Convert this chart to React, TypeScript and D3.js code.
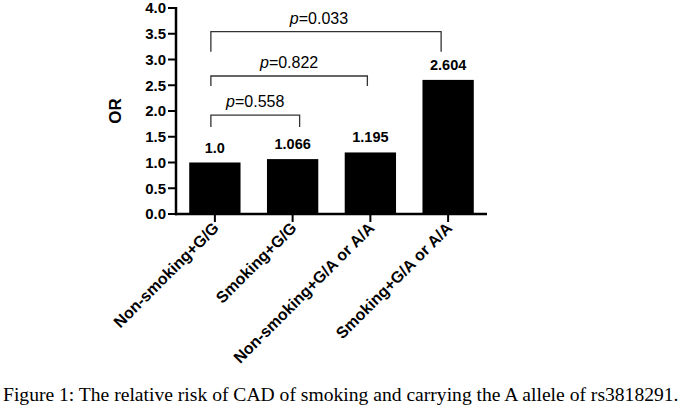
import * as d3 from 'd3';

const categories = ['Non-smoking+G/G', 'Smoking+G/G', 'Non-smoking+G/A or A/A', 'Smoking+G/A or A/A'];
const orValues = [1.0, 1.066, 1.195, 2.604];
const valueLabels = ['1.0', '1.066', '1.195', '2.604'];
const yTicks = [0, 0.5, 1, 1.5, 2, 2.5, 3, 3.5, 4];

// comparisons against the first group: [target index, p text, bracket level in OR units]
const comparisons: { to: number; p: string; level: number }[] = [
  { to: 1, p: '0.558', level: 1.92 },
  { to: 2, p: '0.822', level: 2.68 },
  { to: 3, p: '0.033', level: 3.54 },
];

const W = 685;
const H = 409;
const font = '"Liberation Sans", Arial, Helvetica, sans-serif';

export default function App() {
  const x = d3.scaleBand<string>().domain(categories).range([176, 487]).paddingInner(0.34).paddingOuter(0.17);
  const y = d3.scaleLinear().domain([0, 4]).range([214, 8]);
  const cx = (i: number) => (x(categories[i]) ?? 0) + x.bandwidth() / 2;

  return (
    <svg width={W} height={H} style={{ position: 'absolute', left: 0, top: 0, background: '#fff' }}>
      <rect width={W} height={H} fill="#fff" />

      {/* bars */}
      {categories.map((c, i) => (
        <rect key={c} x={x(c)} y={y(orValues[i])} width={x.bandwidth()} height={y(0) - y(orValues[i])} fill="#000" />
      ))}

      {/* value labels */}
      {categories.map((c, i) => (
        <text key={c} x={cx(i)} y={y(orValues[i]) - 10} textAnchor="middle" fontFamily={font}
          fontWeight="bold" fontSize={14.5} fill="#000">{valueLabels[i]}</text>
      ))}

      {/* y axis */}
      <line x1={176} x2={176} y1={y(4) - 1} y2={y(0) + 1.25} stroke="#000" strokeWidth={2.5} />
      {yTicks.map(t => (
        <g key={t}>
          <line x1={168} x2={176} y1={y(t)} y2={y(t)} stroke="#000" strokeWidth={2} />
          <text x={166} y={y(t)} dy="0.36em" textAnchor="end" fontFamily={font} fontWeight="bold"
            fontSize={15} fill="#000">{t.toFixed(1)}</text>
        </g>
      ))}
      <text transform={`translate(121,${y(2)}) rotate(-90)`} textAnchor="middle" fontFamily={font}
        fontWeight="bold" fontSize={17} fill="#000">OR</text>

      {/* x axis */}
      <line x1={175} x2={487} y1={y(0)} y2={y(0)} stroke="#000" strokeWidth={2.5} />
      {categories.map((c, i) => (
        <g key={c}>
          <line x1={cx(i)} x2={cx(i)} y1={y(0)} y2={y(0) + 8} stroke="#000" strokeWidth={2} />
          <text transform={`translate(${cx(i) + 5},${y(0) + 15}) rotate(-45)`} textAnchor="end"
            fontFamily={font} fontWeight="bold" fontSize={16} fill="#000">{c}</text>
        </g>
      ))}

      {/* significance brackets */}
      {comparisons.map(cmp => {
        const x1 = cx(0) - 4;
        const x2 = cx(cmp.to) + (cmp.to === 1 ? 7 : cmp.to === 2 ? -3 : -7);
        const yl = y(cmp.level);
        const drop = cmp.to === 3 ? 20 : cmp.to === 2 ? 10 : 12;
        return (
          <g key={cmp.p}>
            <path d={`M${x1},${yl + drop}V${yl}H${x2}V${yl + drop}`} fill="none" stroke="#333" strokeWidth={1.3} />
            <text x={(x1 + x2) / 2 + (cmp.to === 3 ? -7 : 0)} y={yl - 8} textAnchor="middle" fontFamily={font}
              fontSize={16} fill="#000">
              <tspan fontStyle="italic">p</tspan>={cmp.p}
            </text>
          </g>
        );
      })}

      {/* caption */}
      <text x={3} y={401} fontFamily='"Liberation Serif", "Times New Roman", serif' fontSize={19.6} fill="#000">
        Figure 1: The relative risk of CAD of smoking and carrying the A allele of rs3818291.
      </text>
    </svg>
  );
}
